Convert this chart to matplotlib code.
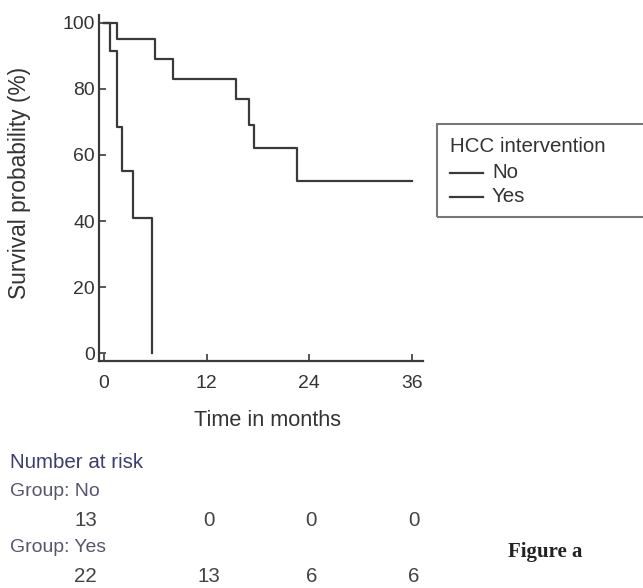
import matplotlib
matplotlib.use("Agg")
import matplotlib.pyplot as plt
from matplotlib import font_manager
from matplotlib.patches import Rectangle
from matplotlib.lines import Line2D

# ---- data ----
groups = ["No", "Yes"]
no_times = [0, 0.7, 1.5, 2.1, 3.4, 5.6]
no_surv = [100, 91.5, 68.5, 55, 41, 0]
yes_times = [0, 1.5, 6.0, 8.1, 15.4, 16.9, 17.6, 22.6, 36]
yes_surv = [100, 95, 89, 83, 77, 69, 62, 52, 52]
x_ticks = [0, 12, 24, 36]
y_ticks = [0, 20, 40, 60, 80, 100]
risk_times = [0, 12, 24, 36]
risk_no = [13, 0, 0, 0]
risk_yes = [22, 13, 6, 6]

# ---- fonts ----
names = {f.name for f in font_manager.fontManager.ttflist}
if "Liberation Sans Narrow" in names:
    SANS = ["Liberation Sans Narrow", "DejaVu Sans"]
    k = 1.0
else:
    SANS = ["Liberation Sans", "DejaVu Sans"]
    k = 0.82
SERIF = ["Liberation Serif", "DejaVu Serif"]
plt.rcParams["font.family"] = SANS

W, H = 643, 588
fig = plt.figure(figsize=(W / 100, H / 100), dpi=100)

def fx(px):
    return px / W

def fy(py):
    return 1 - py / H

ax = fig.add_axes([fx(99), fy(361), fx(423) - fx(99), fy(15) - fy(361)])
line_col = "#3a3a3a"
ax.step(no_times, no_surv, where="post", color=line_col, lw=1.6)
ax.step(yes_times, yes_surv, where="post", color=line_col, lw=1.6)

ax.set_xlim(-0.58, 37.3)
ax.set_ylim(-2.4, 102.4)
ax.set_xticks(x_ticks)
ax.set_yticks(y_ticks)
for s in ["top", "right"]:
    ax.spines[s].set_visible(False)
for s in ["left", "bottom"]:
    ax.spines[s].set_color(line_col)
    ax.spines[s].set_linewidth(1.6)
ax.tick_params(axis="both", direction="in", length=5, width=1.2, color=line_col,
               labelsize=17 * k, labelcolor="#333333")
ax.tick_params(axis="x", pad=10)
ax.tick_params(axis="y", pad=3)

fig.text(fx(20), fy(183), "Survival probability (%)", rotation=90, ha="center",
         va="center", fontsize=20 * k, color="#333333")
fig.text(fx(267), fy(421), "Time in months", ha="center", va="center",
         fontsize=19 * k, color="#333333")

# ---- legend box ----
fig.patches.append(Rectangle((fx(437), fy(217)), 1.2, fy(124) - fy(217),
                             transform=fig.transFigure, fill=False,
                             edgecolor="#777777", lw=1.5, clip_on=False))
fig.text(fx(450), fy(147), "HCC intervention", ha="left", va="center",
         fontsize=18 * k, color="#333333")
for i, g in enumerate(groups):
    yy = 173 + 24 * i
    fig.add_artist(Line2D([fx(450), fx(483)], [fy(yy), fy(yy)], color=line_col,
                          lw=1.6, transform=fig.transFigure))
    fig.text(fx(492), fy(yy), g, ha="left", va="center", fontsize=18 * k,
             color="#333333")

# ---- number at risk ----
fig.text(fx(10), fy(463), "Number at risk", ha="left", va="center",
         fontsize=18 * k, color="#3c3c70")
rows = [("Group: No", risk_no, 492, 520), ("Group: Yes", risk_yes, 548, 577)]
to_fig = ax.transData + fig.transFigure.inverted()
for label, vals, ly, ny in rows:
    fig.text(fx(10), fy(ly), label, ha="left", va="center", fontsize=17 * k,
             color="#55556e")
    for t, v in zip(risk_times, vals):
        xf = to_fig.transform((t, 0))[0]
        if t == 0:
            fig.text(xf - fx(7), fy(ny), str(v), ha="right", va="center",
                     fontsize=18 * k, color="#444444")
        else:
            fig.text(xf + fx(2), fy(ny), str(v), ha="center", va="center",
                     fontsize=18 * k, color="#444444")

fig.text(fx(545), fy(552), "Figure a", ha="center", va="center",
         fontsize=15, fontweight="bold", family=SERIF, color="#222222")

fig.savefig("out.png", dpi=100, facecolor="white")
